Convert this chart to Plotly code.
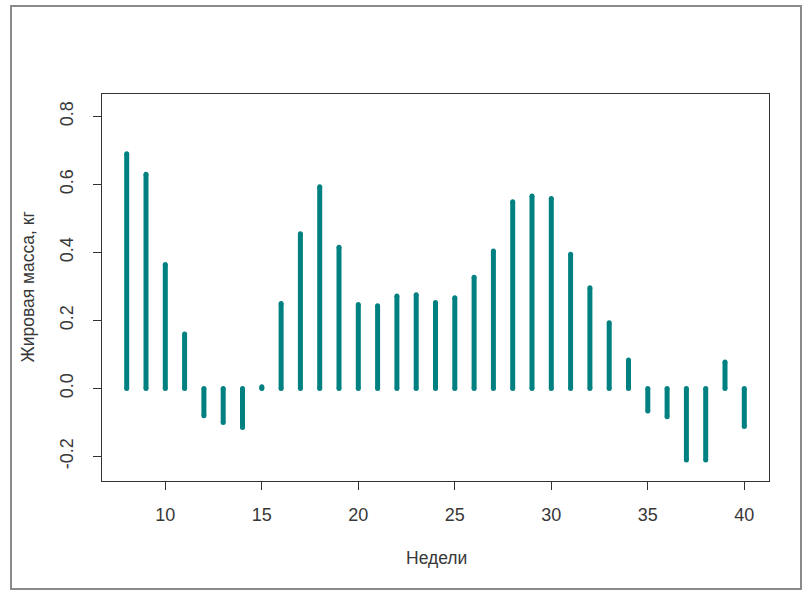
import plotly.graph_objects as go

weeks = list(range(8, 41))
fat_mass = [0.69, 0.63, 0.365, 0.16, -0.08, -0.10, -0.115, 0.005, 0.25, 0.455,
            0.593, 0.415, 0.247, 0.243, 0.272, 0.276, 0.253, 0.267, 0.327, 0.404,
            0.549, 0.566, 0.559, 0.395, 0.296, 0.193, 0.084, -0.066, -0.083, -0.21,
            -0.21, 0.078, -0.112]
x_ticks = [10, 15, 20, 25, 30, 35, 40]
y_ticks = [-0.2, 0.0, 0.2, 0.4, 0.6, 0.8]
y_tick_text = ["-0.2", "0.0", "0.2", "0.4", "0.6", "0.8"]
x_title = "Недели"
y_title = "Жировая масса, кг"

color = "#008080"
xs, ys = [], []
for w, v in zip(weeks, fat_mass):
    xs += [w, w, None]
    ys += [0, v, None]

fig = go.Figure()
fig.add_trace(go.Scatter(x=xs, y=ys, mode="lines+markers",
                         line=dict(color=color, width=5),
                         marker=dict(color=color, size=5),
                         hoverinfo="skip", showlegend=False))

W, H = 803, 592
L, R, T, B = 102, 34, 94, 111
pw, ph = W - L - R, H - T - B
tick_font = dict(family="Liberation Sans, Arial, sans-serif", size=18, color="#383838")
title_font = dict(family="Liberation Sans, Arial, sans-serif", size=17.5, color="#383838")

fig.update_layout(
    width=W, height=H, margin=dict(l=L, r=R, t=T, b=B),
    paper_bgcolor="white", plot_bgcolor="white", font=tick_font,
    xaxis=dict(range=[6.72, 41.28], tickvals=x_ticks, ticks="outside", ticklen=8,
               tickcolor="#333", showline=True, linecolor="#333", linewidth=1,
               mirror=True, showgrid=False, zeroline=False, ticklabelstandoff=9,
               tickfont=tick_font),
    yaxis=dict(range=[-0.272, 0.866], tickvals=y_ticks, ticktext=y_tick_text,
               ticks="outside", ticklen=8, tickangle=-90,
               tickcolor="#333", showline=True, linecolor="#333", linewidth=1,
               mirror=True, showgrid=False, zeroline=False, ticklabelstandoff=13,
               tickfont=tick_font),
    annotations=[
        dict(text=x_title, xref="paper", yref="paper", x=(436 - L) / pw,
             y=-(558 - (T + ph)) / ph, showarrow=False, font=title_font,
             xanchor="center", yanchor="middle"),
        dict(text=y_title, xref="paper", yref="paper", x=(27 - L) / pw,
             y=0.5, showarrow=False, font=title_font, textangle=-90,
             xanchor="center", yanchor="middle"),
    ],
    shapes=[
        dict(type="rect", xref="paper", yref="paper",
             x0=(11 - L) / pw, x1=(801 - L) / pw,
             y0=1 + (T - 6) / ph, y1=-(589 - (T + ph)) / ph,
             line=dict(color="#8a8a8a", width=2), layer="below"),
    ],
)

fig.write_html("out.html")
